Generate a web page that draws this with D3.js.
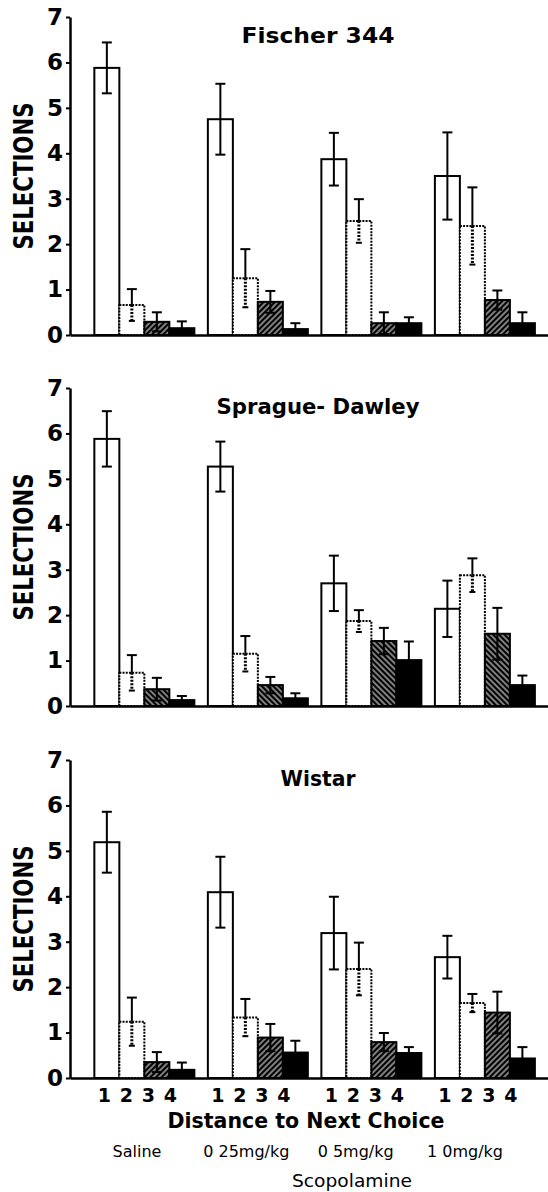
<!DOCTYPE html>
<html lang="en">
<head>
<meta charset="UTF-8">
<title>Selections by distance to next choice</title>
<script src="https://d3js.org/d3.v7.min.js"></script>
<style>
  body { margin: 0; background: #fff; }
  text { font-family: "DejaVu Sans", sans-serif; fill: #000; }
</style>
</head>
<body>
<div id="chart"></div>
<script>
// doses (groups), distances (bars inside a group), strains (panels)
var doses = ["Saline", "0 25mg/kg", "0 5mg/kg", "1 0mg/kg"];
var distances = [1, 2, 3, 4];
var strains = ["Fischer 344", "Sprague- Dawley", "Wistar"];
var yTicks = [0, 1, 2, 3, 4, 5, 6, 7];

// mean selections, one row per dose, one value per distance
var fischerMeans = [[5.88, 0.66, 0.29, 0.15], [4.75, 1.25, 0.73, 0.13], [3.87, 2.51, 0.26, 0.26], [3.50, 2.40, 0.77, 0.26]];
var fischerErr   = [[0.56, 0.35, 0.21, 0.15], [0.78, 0.64, 0.24, 0.13], [0.58, 0.48, 0.24, 0.13], [0.96, 0.85, 0.21, 0.24]];
var spragueMeans = [[5.88, 0.73, 0.37, 0.13], [5.27, 1.15, 0.46, 0.17], [2.70, 1.87, 1.43, 1.01], [2.14, 2.88, 1.59, 0.46]];
var spragueErr   = [[0.61, 0.39, 0.25, 0.09], [0.55, 0.39, 0.18, 0.11], [0.61, 0.24, 0.29, 0.41], [0.62, 0.37, 0.57, 0.21]];
var wistarMeans  = [[5.19, 1.24, 0.35, 0.18], [4.09, 1.33, 0.89, 0.56], [3.19, 2.40, 0.79, 0.55], [2.66, 1.65, 1.44, 0.43]];
var wistarErr    = [[0.67, 0.53, 0.22, 0.16], [0.78, 0.41, 0.30, 0.26], [0.80, 0.58, 0.20, 0.13], [0.47, 0.20, 0.46, 0.25]];

var width = 548, height = 1192;
var axisX = 70;
var panelTops = [17, 388, 760];
var panelHeight = 318;
var titleWidths = [153, 203, 75];

var svg = d3.select("#chart").append("svg")
    .attr("width", width)
    .attr("height", height);

// hatch patterns (black with thin white diagonals)
var defs = svg.append("defs");
[["hatchA", 45], ["hatchB", -45]].forEach(function(p) {
    var pat = defs.append("pattern")
        .attr("id", p[0])
        .attr("patternUnits", "userSpaceOnUse")
        .attr("width", 4).attr("height", 4)
        .attr("patternTransform", "rotate(" + p[1] + ")");
    pat.append("rect").attr("width", 4).attr("height", 4).attr("fill", "#000");
    pat.append("line").attr("x1", 2).attr("y1", 0).attr("x2", 2).attr("y2", 4)
        .attr("stroke", "#fff").attr("stroke-width", 1);
});

// groups along x
var x0 = d3.scaleBand()
    .domain(doses)
    .range([axisX, width])
    .paddingInner(0.119)
    .paddingOuter(0.165)
    .align(0.65);

var x1 = d3.scaleBand()
    .domain(distances)
    .range([0, x0.bandwidth()]);

var panels = [
    { name: strains[0], means: fischerMeans, err: fischerErr, hatch: "hatchA" },
    { name: strains[1], means: spragueMeans, err: spragueErr, hatch: "hatchB" },
    { name: strains[2], means: wistarMeans, err: wistarErr, hatch: "hatchA" }
];

panels.forEach(function(p, pi) {
    var top = panelTops[pi];
    var y = d3.scaleLinear().domain([0, 7]).range([top + panelHeight, top]);
    var g = svg.append("g");

    // flatten into bar records
    var bars = [];
    doses.forEach(function(dose, di) {
        distances.forEach(function(dist, k) {
            bars.push({ dose: dose, dist: dist, m: p.means[di][k], e: p.err[di][k] });
        });
    });

    var fills = { 1: "#fff", 2: "#fff", 3: "url(#" + p.hatch + ")", 4: "#000" };

    g.selectAll("rect.bar")
        .data(bars)
        .enter().append("rect")
        .attr("class", "bar")
        .attr("x", function(d) { return x0(d.dose) + x1(d.dist); })
        .attr("width", x1.bandwidth())
        .attr("y", function(d) { return y(d.m); })
        .attr("height", function(d) { return y(0) - y(d.m); })
        .attr("fill", function(d) { return fills[d.dist]; })
        .attr("stroke", "#000")
        .attr("stroke-width", 2)
        .attr("stroke-dasharray", function(d) { return d.dist === 2 ? "2 1.2" : null; });

    // error bars
    var cx = function(d) { return x0(d.dose) + x1(d.dist) + x1.bandwidth() / 2; };
    var eb = g.selectAll("g.err").data(bars).enter().append("g").attr("class", "err")
        .attr("stroke", "#000").attr("stroke-width", 2);

    // upper half
    eb.append("line")
        .attr("x1", cx).attr("x2", cx)
        .attr("y1", function(d) { return y(d.m); })
        .attr("y2", function(d) { return y(d.m + d.e); });
    eb.append("line")
        .attr("x1", function(d) { return cx(d) - 5; })
        .attr("x2", function(d) { return cx(d) + 5; })
        .attr("y1", function(d) { return y(d.m + d.e); })
        .attr("y2", function(d) { return y(d.m + d.e); });
    // lower half
    eb.append("line")
        .attr("x1", cx).attr("x2", cx)
        .attr("y1", function(d) { return y(d.m); })
        .attr("y2", function(d) { return y(Math.max(0, d.m - d.e)); })
        .attr("stroke-width", function(d) { return d.dist === 2 ? 3 : 2; })
        .attr("stroke-dasharray", function(d) { return d.dist === 2 ? "2 1.5" : null; });
    eb.append("line")
        .attr("x1", function(d) { return cx(d) - (d.dist === 2 ? 3 : 5); })
        .attr("x2", function(d) { return cx(d) + (d.dist === 2 ? 3 : 5); })
        .attr("y1", function(d) { return y(Math.max(0, d.m - d.e)); })
        .attr("y2", function(d) { return y(Math.max(0, d.m - d.e)); });

    // y axis
    var yAxis = g.append("g")
        .attr("transform", "translate(" + axisX + ",0)")
        .call(d3.axisLeft(y).tickValues(yTicks).tickFormat(d3.format("d"))
            .tickSizeInner(4).tickSizeOuter(0).tickPadding(3));
    yAxis.select(".domain").attr("stroke-width", 2.5);
    yAxis.selectAll(".tick line").attr("stroke-width", 2);
    yAxis.selectAll(".tick text")
        .style("font-family", "DejaVu Sans, sans-serif")
        .style("font-weight", "bold")
        .style("font-size", "23px");

    // x axis baseline
    var xAxis = g.append("g")
        .attr("transform", "translate(0," + y(0) + ")")
        .call(d3.axisBottom(x0).tickSize(0).tickFormat(""));
    xAxis.select(".domain").attr("stroke-width", 2.5);

    // panel title
    g.append("text")
        .attr("x", 318)
        .attr("y", top + 26)
        .attr("text-anchor", "middle")
        .attr("textLength", titleWidths[pi])
        .attr("lengthAdjust", "spacingAndGlyphs")
        .style("font-weight", "bold")
        .style("font-size", "21px")
        .text(p.name);

    // y label
    g.append("text")
        .attr("transform", "translate(33," + (top + 159) + ") rotate(-90)")
        .attr("text-anchor", "middle")
        .attr("textLength", 147)
        .attr("lengthAdjust", "spacingAndGlyphs")
        .style("font-weight", "bold")
        .style("font-size", "27px")
        .text("SELECTIONS");

    // distance labels on the last panel only
    if (pi === panels.length - 1) {
        var xd = d3.scalePoint().domain(distances).range([10, 76]);
        doses.forEach(function(dose) {
            g.selectAll(null)
                .data(distances)
                .enter().append("text")
                .attr("x", function(d) { return x0(dose) + xd(d); })
                .attr("y", y(0) + 24)
                .attr("text-anchor", "middle")
                .style("font-size", "19px")
                .style("font-weight", "bold")
                .text(function(d) { return d; });
        });
    }
});

// bottom titles
svg.append("text")
    .attr("x", 306)
    .attr("y", 1128)
    .attr("text-anchor", "middle")
    .attr("textLength", 277)
    .attr("lengthAdjust", "spacingAndGlyphs")
    .style("font-size", "22px")
    .style("font-weight", "bold")
    .text("Distance to Next Choice");

var xDose = d3.scalePoint().domain(doses).range([137, 465]);
svg.selectAll("text.dose")
    .data(doses)
    .enter().append("text")
    .attr("class", "dose")
    .attr("x", function(d) { return xDose(d); })
    .attr("y", 1157)
    .attr("text-anchor", "middle")
    .style("font-size", "16px")
    .text(function(d) { return d; });

svg.append("text")
    .attr("x", 352)
    .attr("y", 1187)
    .attr("text-anchor", "middle")
    .attr("textLength", 120)
    .attr("lengthAdjust", "spacingAndGlyphs")
    .style("font-size", "17px")
    .text("Scopolamine");
</script>
</body>
</html>
